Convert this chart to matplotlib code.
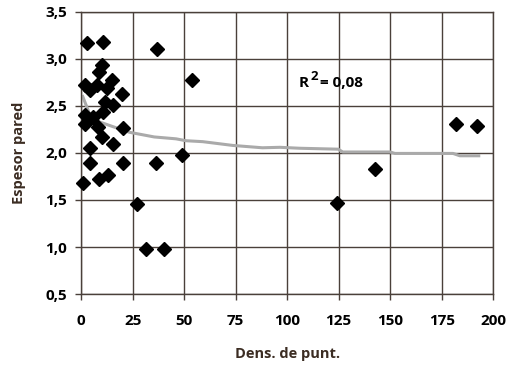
import matplotlib
matplotlib.use("Agg")
import matplotlib.pyplot as plt

# scatter points
dens = [2.8, 10.8, 37.0, 53.7, 10.0, 8.9, 15.0, 1.9, 7.6, 4.4, 12.5, 19.7,
        11.6, 15.7, 10.8, 1.9, 6.0, 1.9, 8.4, 20.5, 10.0, 15.7, 4.4, 48.8,
        4.4, 20.5, 36.2, 1.1, 8.9, 13.2, 27.3, 31.5, 40.1, 124.2, 142.7,
        181.9, 192.2]
espesor = [3.17, 3.18, 3.10, 2.78, 2.93, 2.86, 2.77, 2.72, 2.72, 2.67, 2.69, 2.63,
           2.54, 2.51, 2.44, 2.40, 2.38, 2.31, 2.28, 2.26, 2.17, 2.10, 2.05, 1.98,
           1.89, 1.89, 1.89, 1.68, 1.72, 1.77, 1.46, 0.98, 0.98, 1.47, 1.83,
           2.31, 2.29]

# trend line (grey) as drawn in the picture
trend_x = [0.8, 4.0, 8.9, 15.4, 23.4, 35.5, 46.1, 50.9, 59.0, 73.6, 88.0, 96.5,
           106.0, 124.8, 127.0, 150.0, 152.3, 180.5, 183.8, 193.0]
trend_y = [2.60, 2.42, 2.33, 2.28, 2.22, 2.17, 2.15, 2.13, 2.12, 2.08, 2.055, 2.06,
           2.05, 2.04, 2.01, 2.01, 1.995, 1.995, 1.97, 1.97]

x_ticks = [0, 25, 50, 75, 100, 125, 150, 175, 200]
y_ticks = [0.5, 1.0, 1.5, 2.0, 2.5, 3.0, 3.5]
y_labels = ["0,5", "1,0", "1,5", "2,0", "2,5", "3,0", "3,5"]
r2_text = "0,08"

plt.rcParams["font.family"] = ["Open Sans", "DejaVu Sans"]
label_col = "#3b2c22"
grid_col = "#4a403a"

fig = plt.figure(figsize=(5.1, 3.69), dpi=100)
ax = fig.add_axes([0.159, 0.203, 0.808, 0.765])

ax.set_xlim(0, 200)
ax.set_ylim(0.5, 3.5)
ax.set_xticks(x_ticks)
ax.set_xticklabels([str(t) for t in x_ticks], fontsize=11, fontweight="bold")
ax.set_yticks(y_ticks)
ax.set_yticklabels(y_labels, fontsize=11, fontweight="bold")
ax.tick_params(direction="out", length=4, width=1, color=grid_col)
ax.tick_params(axis="x", pad=10)
ax.tick_params(axis="y", pad=6)

ax.grid(True, color=grid_col, linewidth=1)
ax.set_axisbelow(True)
for s in ax.spines.values():
    s.set_color(grid_col)
    s.set_linewidth(1)

ax.plot(trend_x, trend_y, color="#aaaaaa", linewidth=2.2, zorder=2)
ax.plot(dens, espesor, linestyle="none", marker="D", markersize=7.4,
        color="black", zorder=3, clip_on=False)

ax.text(105.5, 2.74, "R", fontsize=11, fontweight="bold", ha="left", va="center")
ax.annotate("2", xy=(105.5, 2.74), xytext=(8.5, 5), textcoords="offset points",
            fontsize=9.5, fontweight="bold", ha="left", va="center")
ax.annotate("= " + r2_text, xy=(105.5, 2.74), xytext=(15.5, 0), textcoords="offset points",
            fontsize=11, fontweight="bold", ha="left", va="center")

ax.set_xlabel("Dens. de punt.", fontsize=10.5, fontweight="bold", color=label_col, labelpad=14)
ax.set_ylabel("Espesor pared", fontsize=10.5, fontweight="bold", color=label_col, labelpad=14)

fig.savefig("out.png", dpi=100)
